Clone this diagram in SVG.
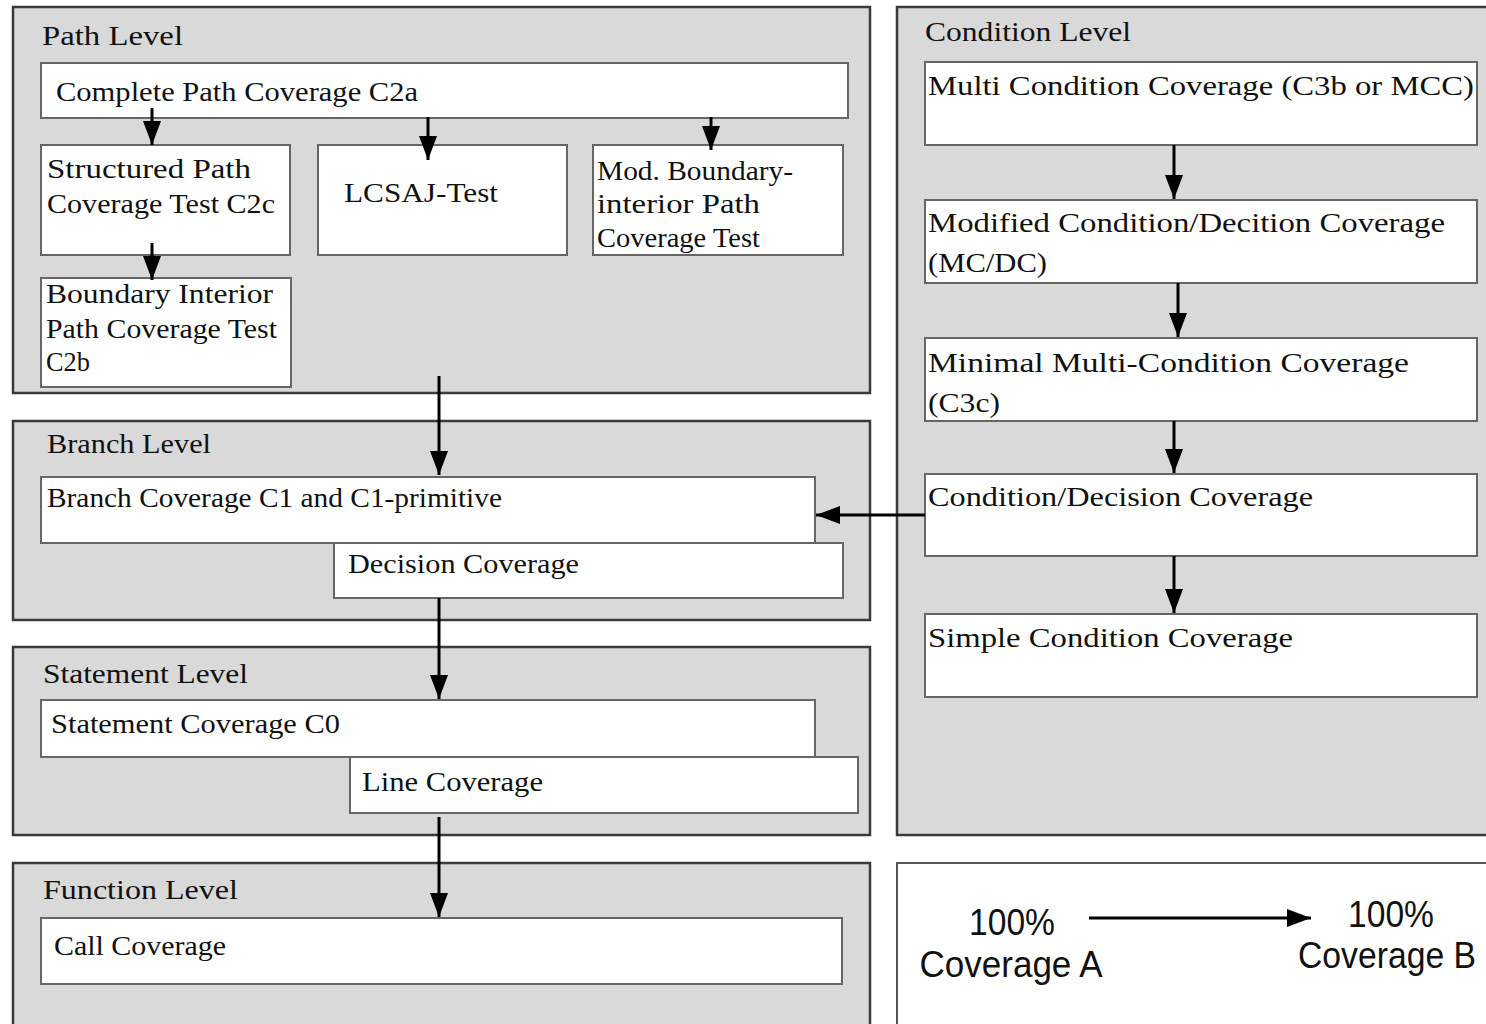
<svg xmlns="http://www.w3.org/2000/svg" width="1486" height="1024" viewBox="0 0 1486 1024">
<style>
  .panel { fill: #d9d9d9; stroke: #3a3a3a; stroke-width: 2.5; }
  .legend { fill: #ffffff; stroke: #555555; stroke-width: 2; }
  .box { fill: #ffffff; stroke: #666666; stroke-width: 2; }
  .t { font-family: "Liberation Serif", "DejaVu Serif", serif; font-size: 27px; fill: #111111; }
  .tl { font-family: "Liberation Serif", "DejaVu Serif", serif; font-size: 28px; fill: #111111; }
  .s { font-family: "Liberation Sans", Arial, sans-serif; font-size: 36px; fill: #111111; text-anchor: middle; }
  .conn { stroke: #000000; stroke-width: 3; fill: none; marker-end: url(#ah); }
</style>
<defs>
  <marker id="ah" markerUnits="userSpaceOnUse" markerWidth="24" markerHeight="18" refX="24" refY="9" orient="auto">
    <path d="M0,0 L24,9 L0,18 z" fill="#000000"/>
  </marker>
</defs>
<rect width="1486" height="1024" fill="#ffffff"/>

<g id="path-level">
  <rect class="panel" x="13" y="7" width="857" height="386"/>
  <text class="t" x="42" y="45" textLength="141" lengthAdjust="spacingAndGlyphs">Path Level</text>
</g>
<g id="complete-path">
  <rect class="box" x="41" y="63" width="807" height="55"/>
  <text class="t" x="56" y="101" textLength="362" lengthAdjust="spacingAndGlyphs">Complete Path Coverage C2a</text>
</g>
<g id="structured-path">
  <rect class="box" x="41" y="145" width="249" height="110"/>
  <text class="t" x="47" y="178" textLength="204" lengthAdjust="spacingAndGlyphs">Structured Path</text>
  <text class="t" x="47" y="213" textLength="228" lengthAdjust="spacingAndGlyphs">Coverage Test C2c</text>
</g>
<g id="lcsaj">
  <rect class="box" x="318" y="145" width="249" height="110"/>
  <text class="t" x="344" y="202" textLength="154" lengthAdjust="spacingAndGlyphs">LCSAJ-Test</text>
</g>
<g id="mod-boundary">
  <rect class="box" x="593" y="145" width="250" height="110"/>
  <text class="t" x="597" y="180" textLength="196" lengthAdjust="spacingAndGlyphs">Mod. Boundary-</text>
  <text class="t" x="597" y="213" textLength="163" lengthAdjust="spacingAndGlyphs">interior Path</text>
  <text class="t" x="597" y="247" textLength="163" lengthAdjust="spacingAndGlyphs">Coverage Test</text>
</g>
<g id="boundary-interior">
  <rect class="box" x="41" y="278" width="250" height="109"/>
  <text class="t" x="46" y="303" textLength="227" lengthAdjust="spacingAndGlyphs">Boundary Interior</text>
  <text class="t" x="46" y="338" textLength="231" lengthAdjust="spacingAndGlyphs">Path Coverage Test</text>
  <text class="t" x="46" y="371" textLength="44" lengthAdjust="spacingAndGlyphs">C2b</text>
</g>

<g id="branch-level">
  <rect class="panel" x="13" y="421" width="857" height="199"/>
  <text class="t" x="47" y="453" textLength="164" lengthAdjust="spacingAndGlyphs">Branch Level</text>
</g>
<g id="branch-coverage">
  <rect class="box" x="41" y="477" width="774" height="66"/>
  <text class="t" x="47" y="507" textLength="455" lengthAdjust="spacingAndGlyphs">Branch Coverage C1 and C1-primitive</text>
</g>
<g id="decision-coverage">
  <rect class="box" x="334" y="543" width="509" height="55"/>
  <text class="t" x="348" y="573" textLength="231" lengthAdjust="spacingAndGlyphs">Decision Coverage</text>
</g>

<g id="statement-level">
  <rect class="panel" x="13" y="647" width="857" height="188"/>
  <text class="t" x="43" y="683" textLength="205" lengthAdjust="spacingAndGlyphs">Statement Level</text>
</g>
<g id="statement-coverage">
  <rect class="box" x="41" y="700" width="774" height="57"/>
  <text class="t" x="51" y="733" textLength="289" lengthAdjust="spacingAndGlyphs">Statement Coverage C0</text>
</g>
<g id="line-coverage">
  <rect class="box" x="350" y="757" width="508" height="56"/>
  <text class="t" x="362" y="791" textLength="181" lengthAdjust="spacingAndGlyphs">Line Coverage</text>
</g>

<g id="function-level">
  <rect class="panel" x="13" y="863" width="857" height="175"/>
  <text class="t" x="43" y="899" textLength="195" lengthAdjust="spacingAndGlyphs">Function Level</text>
</g>
<g id="call-coverage">
  <rect class="box" x="41" y="918" width="801" height="66"/>
  <text class="t" x="54" y="955" textLength="172" lengthAdjust="spacingAndGlyphs">Call Coverage</text>
</g>

<g id="condition-level">
  <rect class="panel" x="897" y="7" width="600" height="828"/>
  <text class="t" x="925" y="41" textLength="206" lengthAdjust="spacingAndGlyphs">Condition Level</text>
</g>
<g id="multi-condition">
  <rect class="box" x="925" y="62" width="552" height="83"/>
  <text class="tl" x="928" y="95" textLength="546" lengthAdjust="spacingAndGlyphs">Multi Condition Coverage (C3b or MCC)</text>
</g>
<g id="mcdc">
  <rect class="box" x="925" y="200" width="552" height="83"/>
  <text class="tl" x="928" y="232" textLength="517" lengthAdjust="spacingAndGlyphs">Modified Condition/Decition Coverage</text>
  <text class="tl" x="928" y="272" textLength="119" lengthAdjust="spacingAndGlyphs">(MC/DC)</text>
</g>
<g id="minimal-multi">
  <rect class="box" x="925" y="338" width="552" height="83"/>
  <text class="tl" x="928" y="372" textLength="481" lengthAdjust="spacingAndGlyphs">Minimal Multi-Condition Coverage</text>
  <text class="tl" x="928" y="412" textLength="72" lengthAdjust="spacingAndGlyphs">(C3c)</text>
</g>
<g id="condition-decision">
  <rect class="box" x="925" y="474" width="552" height="82"/>
  <text class="tl" x="928" y="506" textLength="385" lengthAdjust="spacingAndGlyphs">Condition/Decision Coverage</text>
</g>
<g id="simple-condition">
  <rect class="box" x="925" y="614" width="552" height="83"/>
  <text class="tl" x="928" y="647" textLength="365" lengthAdjust="spacingAndGlyphs">Simple Condition Coverage</text>
</g>

<g id="legend">
  <rect class="legend" x="897" y="863" width="600" height="175"/>
  <text class="s" x="1012" y="935" textLength="86" lengthAdjust="spacingAndGlyphs">100%</text>
  <text class="s" x="1011" y="977" textLength="183" lengthAdjust="spacingAndGlyphs">Coverage A</text>
  <text class="s" x="1391" y="927" textLength="86" lengthAdjust="spacingAndGlyphs">100%</text>
  <text class="s" x="1387" y="968" textLength="178" lengthAdjust="spacingAndGlyphs">Coverage B</text>
</g>

<g id="connectors">
  <line class="conn" x1="152" y1="108" x2="152" y2="145"/>
  <line class="conn" x1="428" y1="117" x2="428" y2="160"/>
  <line class="conn" x1="711" y1="117" x2="711" y2="150"/>
  <line class="conn" x1="152" y1="243" x2="152" y2="280"/>
  <line class="conn" x1="439" y1="376" x2="439" y2="475"/>
  <line class="conn" x1="439" y1="598" x2="439" y2="699"/>
  <line class="conn" x1="439" y1="817" x2="439" y2="917"/>
  <line class="conn" x1="925" y1="515" x2="816" y2="515"/>
  <line class="conn" x1="1174" y1="145" x2="1174" y2="199"/>
  <line class="conn" x1="1178" y1="283" x2="1178" y2="337"/>
  <line class="conn" x1="1174" y1="421" x2="1174" y2="473"/>
  <line class="conn" x1="1174" y1="556" x2="1174" y2="613"/>
  <line class="conn" x1="1089" y1="918" x2="1311" y2="918"/>
</g>
</svg>
